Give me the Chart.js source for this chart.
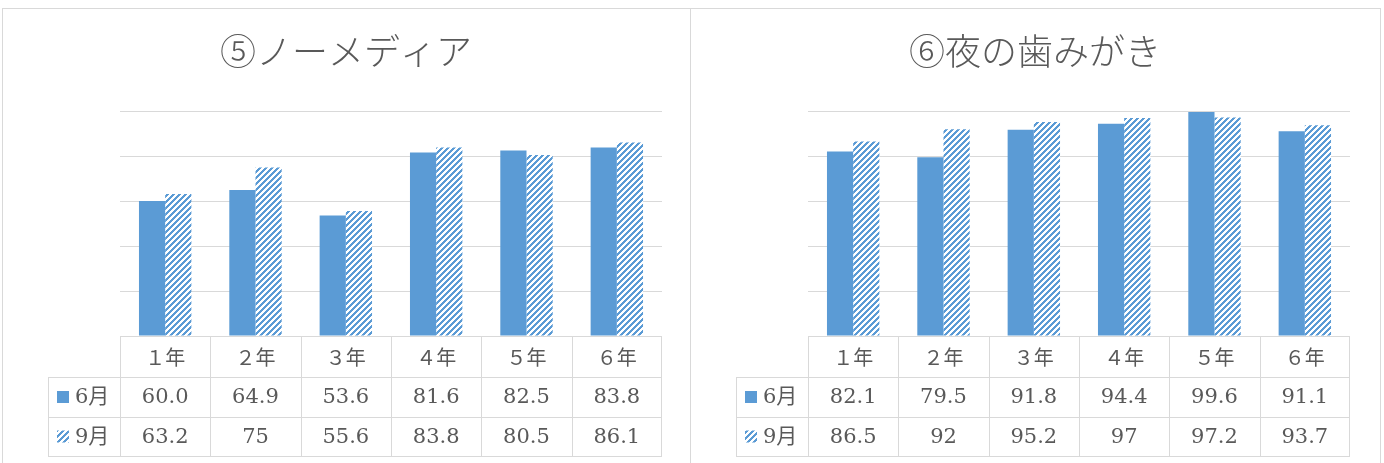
<!DOCTYPE html>
<html>
<head>
<meta charset="utf-8">
<script src="https://cdn.jsdelivr.net/npm/chart.js@4"></script>
<style>
body { margin: 0; background: #fff; width: 1384px; height: 463px; overflow: hidden; position: relative; }
.frame { position: absolute; top: 8px; height: 480px; border: 1px solid #d9d9d9; box-sizing: border-box; }
#frame1 { left: 2px; width: 689px; }
#frame2 { left: 690px; width: 691px; }
canvas { position: absolute; top: 0; }
#noMedia { left: 30px; }
#brushing { left: 720px; }
</style>
</head>
<body>
<div class="frame" id="frame1"></div>
<div class="frame" id="frame2"></div>
<canvas id="noMedia" width="632" height="463"></canvas>
<canvas id="brushing" width="630" height="463"></canvas>
<script>
const grades = ['１年', '２年', '３年', '４年', '５年', '６年'];
const months = ['6月', '9月'];
const noMediaJune = [60.0, 64.9, 53.6, 81.6, 82.5, 83.8];
const noMediaSept = [63.2, 75, 55.6, 83.8, 80.5, 86.1];
const brushJune = [82.1, 79.5, 91.8, 94.4, 99.6, 91.1];
const brushSept = [86.5, 92, 95.2, 97, 97.2, 93.7];

var blue = '#5B9BD5';
var textColor = '#595959';
var lineColor = '#d9d9d9';

// white diagonal stripes over blue, like the excel "wide upward diagonal" fill
function makeHatch() {
    var size = 6;
    var c = document.createElement('canvas');
    c.width = size;
    c.height = size;
    var ctx = c.getContext('2d');
    ctx.fillStyle = '#fff';
    ctx.fillRect(0, 0, size, size);
    ctx.fillStyle = blue;
    for (var px = 0; px < size; px++) {
        for (var py = 0; py < size; py++) {
            if ((px + py) % size < 3) ctx.fillRect(px, py, 1, 1);
        }
    }
    return ctx.createPattern(c, 'repeat');
}

function fmt(v, digits) {
    return digits ? v.toFixed(digits) : String(v);
}

// data table drawn under the x axis, columns taken from the category scale
var tablePlugin = {
    id: 'dataTable',
    afterDraw: function (chart) {
        var ctx = chart.ctx;
        var area = chart.chartArea;
        var x = chart.scales.x;
        var labels = chart.data.labels;
        var n = labels.length;
        var rows = [area.bottom, area.bottom + 41, area.bottom + 81, area.bottom + 120];
        var legendLeft = Math.round(area.left) - 72;

        ctx.save();
        ctx.strokeStyle = lineColor;
        ctx.lineWidth = 1;
        ctx.beginPath();
        ctx.moveTo(area.left, rows[0] + 0.5);
        ctx.lineTo(area.right, rows[0] + 0.5);
        for (var r = 1; r < rows.length; r++) {
            ctx.moveTo(legendLeft, rows[r] + 0.5);
            ctx.lineTo(area.right, rows[r] + 0.5);
        }
        for (var i = 0; i <= n; i++) {
            var bx = Math.min(Math.round(x.getPixelForValue(i - 0.5)) + 0.5, area.right - 0.5);
            ctx.moveTo(bx, rows[0]);
            ctx.lineTo(bx, rows[3] + 1);
        }
        ctx.moveTo(legendLeft + 0.5, rows[1]);
        ctx.lineTo(legendLeft + 0.5, rows[3] + 1);
        ctx.stroke();

        ctx.fillStyle = textColor;
        ctx.textAlign = 'center';
        ctx.textBaseline = 'middle';
        ctx.font = '20px "Noto Sans CJK JP"';
        labels.forEach(function (lab, i) {
            ctx.fillText(lab, x.getPixelForValue(i), rows[0] + 21);
        });

        ctx.font = '21px "DejaVu Serif", "Noto Sans CJK JP"';
        chart.data.datasets.forEach(function (ds, r) {
            var cy = (rows[r + 1] + rows[r + 2]) / 2 + 1;
            ctx.fillStyle = textColor;
            ctx.textAlign = 'center';
            ds.data.forEach(function (v, i) {
                ctx.fillText(fmt(v, ds.digits), x.getPixelForValue(i), cy);
            });
            // legend key
            ctx.fillStyle = ds.backgroundColor;
            ctx.fillRect(legendLeft + 9, cy - 7, 12, 12);
            ctx.fillStyle = textColor;
            ctx.textAlign = 'left';
            ctx.fillText(ds.label, legendLeft + 27, cy);
        });
        ctx.restore();
    }
};

function makeChart(id, title, june, sept, juneDigits, leftWidth) {
    var hatch = makeHatch();
    return new Chart(document.getElementById(id), {
        type: 'bar',
        data: {
            labels: grades,
            datasets: [
                { label: months[0], data: june, digits: juneDigits, backgroundColor: blue },
                { label: months[1], data: sept, digits: 0, backgroundColor: hatch }
            ]
        },
        options: {
            responsive: false,
            animation: false,
            categoryPercentage: 0.58,
            barPercentage: 1,
            layout: { padding: { top: 0, left: 0, right: 0, bottom: 127 } },
            plugins: {
                legend: { display: false },
                tooltip: { enabled: false },
                title: {
                    display: true,
                    text: title,
                    color: textColor,
                    font: { family: '"Noto Sans CJK JP"', size: 36, weight: 300 },
                    padding: { top: 30, bottom: 38 }
                }
            },
            scales: {
                x: { display: false },
                y: {
                    min: 0,
                    max: 100,
                    ticks: { stepSize: 20, display: false },
                    grid: { color: lineColor, drawTicks: false },
                    border: { display: false },
                    afterFit: function (scale) { scale.width = leftWidth; }
                }
            }
        },
        plugins: [tablePlugin]
    });
}

makeChart('noMedia', '⑤ノーメディア', noMediaJune, noMediaSept, 1, 90);
makeChart('brushing', '⑥夜の歯みがき', brushJune, brushSept, 0, 88);
</script>
</body>
</html>
